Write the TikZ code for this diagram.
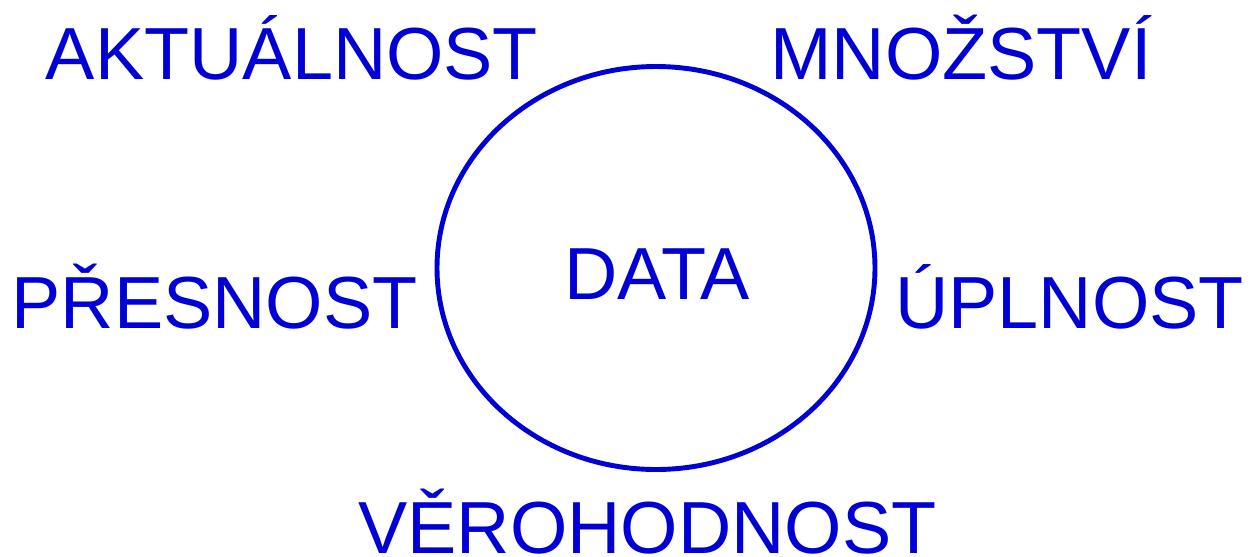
\documentclass[tikz,border=0pt]{standalone}
\usepackage{fontspec}
\setmainfont{Liberation Sans}
\usepackage{tikz}
\definecolor{datablue}{RGB}{0,0,214}
\tikzset{word/.style={anchor=base,text=datablue,inner sep=0pt,font=\fontsize{42}{50}\selectfont}}

\begin{document}
\begin{tikzpicture}[x=0.02cm,y=-0.02cm]
  \useasboundingbox (0,0) rectangle (1251,556);
  \draw[datablue,line width=2.8pt] (656,268) ellipse [x radius=219,y radius=201.5];
  \draw (657,299) node[word] (DAT) {DATA};
  \draw (292,79) node[word] (AKT) {AKTUÁLNOST} (961,79) node[word] (MNO) {MNOŽSTVÍ};
  \draw (214.5,328) node[word] (PRE) {PŘESNOST} (1069.5,328) node[word] (UPL) {ÚPLNOST};
  \draw (647.5,553) node[word] (VER) {VĚROHODNOST};
\end{tikzpicture}
\end{document}
